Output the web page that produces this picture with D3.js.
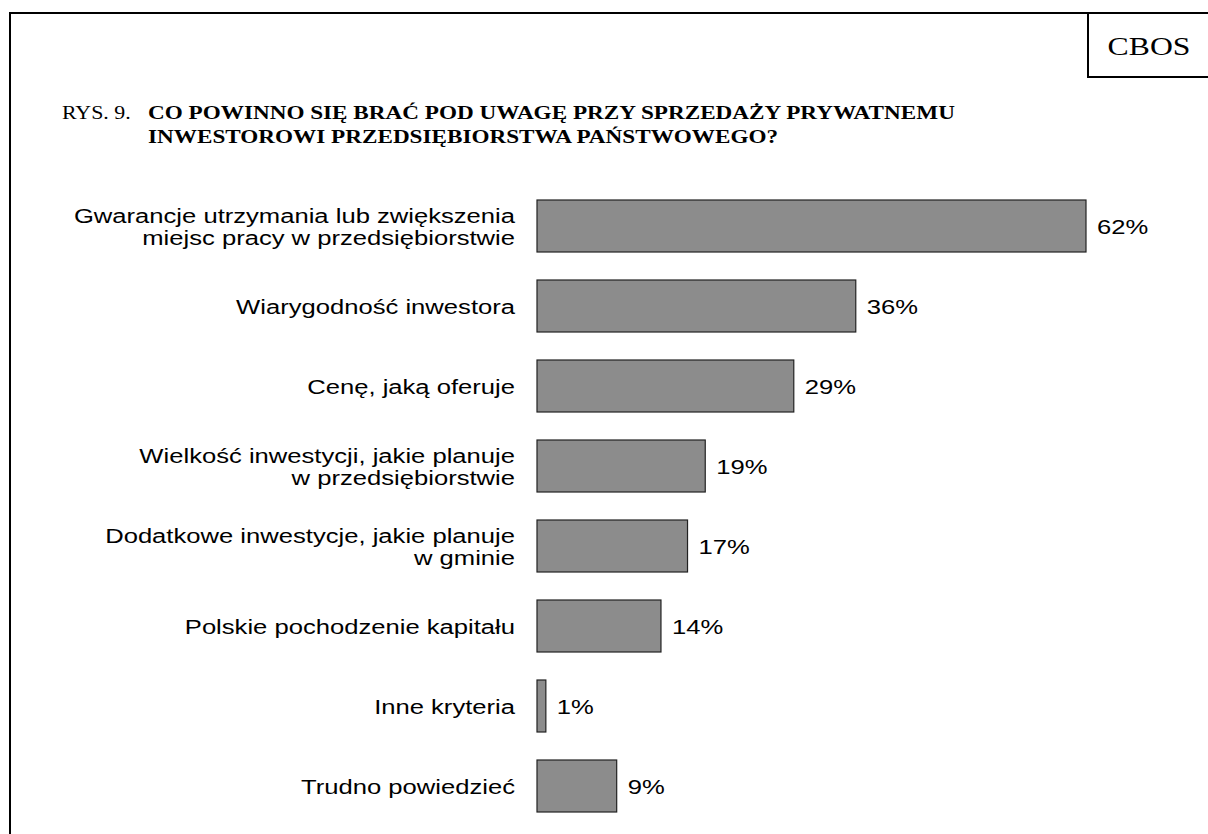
<!DOCTYPE html>
<html lang="pl">
<head>
<meta charset="UTF-8">
<title>RYS. 9</title>
<script src="https://d3js.org/d3.v7.min.js"></script>
<style>
    body { margin: 0; background: #fff; }
    .label { font-family: "Liberation Sans", Arial, sans-serif; font-size: 21px; fill: #000; }
    .title { font-family: "Liberation Serif", "Times New Roman", serif; font-size: 19px; fill: #000; }
</style>
</head>
<body>
<svg id="chart" width="1208" height="834"></svg>
<script>
// categories (each label split into lines) and values in percent
const categories = [
    ["Gwarancje utrzymania lub zwiększenia", "miejsc pracy w przedsiębiorstwie"],
    ["Wiarygodność inwestora"],
    ["Cenę, jaką oferuje"],
    ["Wielkość inwestycji, jakie planuje", "w przedsiębiorstwie"],
    ["Dodatkowe inwestycje, jakie planuje", "w gminie"],
    ["Polskie pochodzenie kapitału"],
    ["Inne kryteria"],
    ["Trudno powiedzieć"]
];
const values = [62, 36, 29, 19, 17, 14, 1, 9];

// the original page is stretched horizontally, so text gets the same stretch
const sx = 1.22;
const svg = d3.select("#chart");

function stretched(parent, x, y, s = sx) {
    return parent.append("g").attr("transform", `translate(${x},${y}) scale(${s},1)`);
}

// outer frame and CBOS box
svg.append("rect").attr("x", 10).attr("y", 13).attr("width", 1220).attr("height", 900)
    .attr("fill", "none").attr("stroke", "#000").attr("stroke-width", 2);
svg.append("rect").attr("x", 1088).attr("y", 13).attr("width", 140).attr("height", 64)
    .attr("fill", "none").attr("stroke", "#000").attr("stroke-width", 2);
stretched(svg, 1149, 55).append("text").attr("class", "title")
    .attr("text-anchor", "middle").style("font-size", "26px").text("CBOS");

// title
stretched(svg, 62, 119, 1.15).append("text").attr("class", "title").text("RYS. 9.");
const title = stretched(svg, 148, 119).append("text").attr("class", "title").attr("font-weight", "bold");
title.append("tspan").attr("x", 0).attr("y", 0)
    .text("CO POWINNO SIĘ BRAĆ POD UWAGĘ PRZY SPRZEDAŻY PRYWATNEMU");
title.append("tspan").attr("x", 0).attr("y", 24)
    .text("INWESTOROWI PRZEDSIĘBIORSTWA PAŃSTWOWEGO?");

// scales
const x = d3.scaleLinear().domain([0, 62]).range([537, 1086]);
const y = d3.scaleBand().domain(d3.range(categories.length)).range([186, 826]).paddingInner(0.35).paddingOuter(0.175);

const g = svg.append("g");

g.selectAll("rect.bar")
    .data(values)
    .join("rect")
    .attr("class", "bar")
    .attr("x", x(0))
    .attr("y", (d, i) => y(i))
    .attr("width", d => x(d) - x(0))
    .attr("height", y.bandwidth())
    .attr("fill", "#8c8c8c")
    .attr("stroke", "#222")
    .attr("stroke-width", 1.2);

values.forEach((v, i) => {
    stretched(g, x(v) + 11, y(i) + y.bandwidth() / 2 + 8)
        .append("text").attr("class", "label").text(v + "%");
});

// category labels, right aligned
const lineH = 23;
categories.forEach((lines, i) => {
    const cy = y(i) + y.bandwidth() / 2 + 8 - (lines.length - 1) * lineH / 2;
    stretched(g, 515, cy)
        .append("text").attr("class", "label").attr("text-anchor", "end")
        .selectAll("tspan")
        .data(lines)
        .join("tspan")
        .attr("x", 0)
        .attr("y", (d, j) => j * lineH)
        .text(d => d);
});
</script>
</body>
</html>
